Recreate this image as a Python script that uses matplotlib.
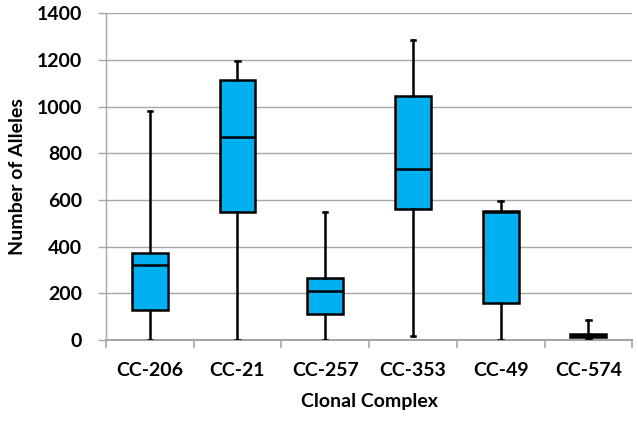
import matplotlib
matplotlib.use("Agg")
import matplotlib.pyplot as plt

categories = ["CC-206", "CC-21", "CC-257", "CC-353", "CC-49", "CC-574"]
whisker_low = [0, 0, 0, 17, 0, 5]
q1 = [127, 548, 112, 560, 160, 15]
median = [320, 868, 212, 733, 548, 22]
q3 = [375, 1112, 268, 1044, 553, 28]
whisker_high = [980, 1195, 547, 1285, 594, 88]
yticks = [0, 200, 400, 600, 800, 1000, 1200, 1400]

plt.rcParams['font.family'] = ['Lato', 'DejaVu Sans']
FS = 14

fig = plt.figure(figsize=(6.38, 4.22), dpi=100)
ax = fig.add_axes([0.166, 0.194, 0.825, 0.775])

stats = []
for i, c in enumerate(categories):
    stats.append(dict(label=c, whislo=whisker_low[i], q1=q1[i], med=median[i],
                      q3=q3[i], whishi=whisker_high[i], fliers=[]))

positions = list(range(len(categories)))
ax.bxp(stats, positions=positions, widths=0.41, patch_artist=True, showfliers=False,
       boxprops=dict(facecolor="#00B0F0", edgecolor="black", linewidth=1.8),
       medianprops=dict(color="black", linewidth=1.8),
       whiskerprops=dict(color="black", linewidth=1.8),
       capprops=dict(color="black", linewidth=1.8),
       capwidths=0.05, zorder=3)

ax.set_xlim(-0.5, len(categories) - 0.5)
ax.set_ylim(0, 1400)
ax.set_yticks(yticks)
ax.set_yticklabels([str(v) for v in yticks], fontsize=FS, fontweight='bold')
ax.set_xticks(positions)
ax.set_xticklabels(categories, fontsize=FS, fontweight='bold')
ax.tick_params(axis='x', length=0, pad=16)
ax.set_xticks([p - 0.5 for p in positions] + [len(categories) - 0.5], minor=True)
ax.tick_params(axis='x', which='minor', length=6, width=1.2, color='#A6A6A6', direction='out')
ax.tick_params(axis='y', length=6, width=1.0, color='#A6A6A6', pad=11)

ax.yaxis.grid(True, color='#A6A6A6', linewidth=1.0, zorder=0)
ax.set_axisbelow(True)
for s in ['top', 'right']:
    ax.spines[s].set_visible(False)
ax.spines['left'].set_color('#A6A6A6')
ax.spines['bottom'].set_color('#A6A6A6')
ax.spines['bottom'].set_linewidth(1.5)
ax.spines['left'].set_linewidth(1.0)

ax.set_xlabel("Clonal Complex", fontsize=FS, fontweight='bold', labelpad=10)
ax.set_ylabel("Number of Alleles", fontsize=FS, fontweight='bold', labelpad=8)

fig.savefig("out.png", dpi=100)
